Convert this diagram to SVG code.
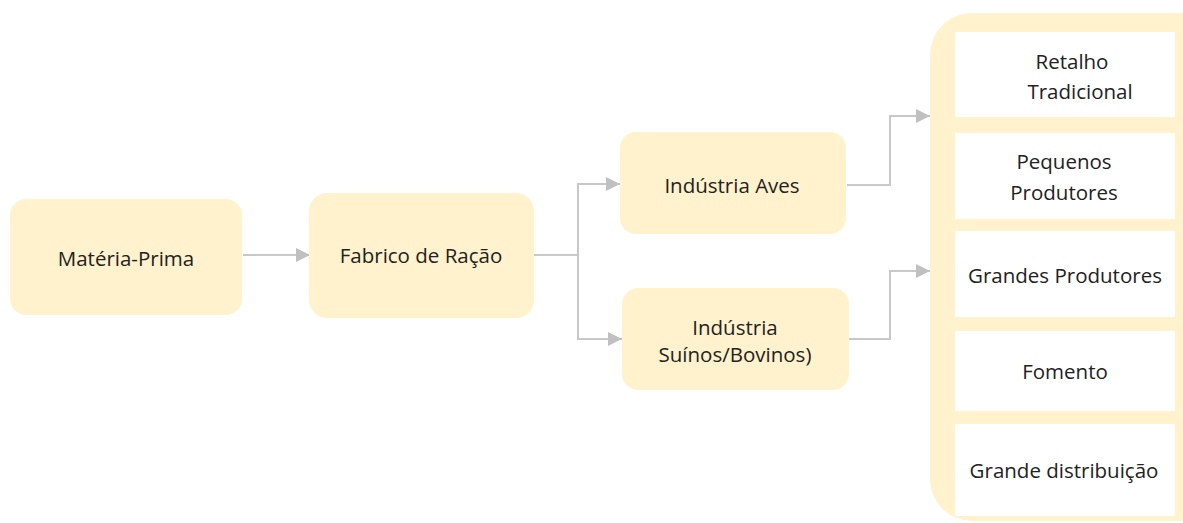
<svg xmlns="http://www.w3.org/2000/svg" width="1183" height="523" viewBox="0 0 1183 523">
<style>
.node{fill:#FFF2CC;}
.inner{fill:#FFFFFF;}
.t{font-family:"Open Sans","Liberation Sans",sans-serif;font-size:20.5px;fill:#222222;text-anchor:middle;dominant-baseline:central;}
.c{fill:none;stroke:#C8C8C8;stroke-width:2;}
</style>
<defs>
<marker id="ah" viewBox="0 0 10 10" refX="10" refY="5" markerWidth="14" markerHeight="14" markerUnits="userSpaceOnUse" orient="auto">
<path d="M0,0 L10,5 L0,10 Z" fill="#C0C0C0"/>
</marker>
</defs>
<rect width="1183" height="523" fill="#FFFFFF"/>
<g id="connectors">
<path class="c" d="M243,255 H310" marker-end="url(#ah)"/>
<path class="c" d="M534,255 H578 V184 H620" marker-end="url(#ah)"/>
<path class="c" d="M578,255 V339 H622" marker-end="url(#ah)"/>
<path class="c" d="M847,185 H890 V116 H930" marker-end="url(#ah)"/>
<path class="c" d="M849,339 H890 V271 H930" marker-end="url(#ah)"/>
</g>
<g id="materia-prima">
<rect class="node" x="10" y="199" width="232" height="116" rx="16"/>
<text class="t" x="126" y="258">Matéria-Prima</text>
</g>
<g id="fabrico">
<rect class="node" x="309" y="193" width="225" height="125" rx="18"/>
<text class="t" x="421" y="255">Fabrico de Ração</text>
</g>
<g id="aves">
<rect class="node" x="620" y="132" width="226" height="102" rx="16"/>
<text class="t" x="732" y="185">Indústria Aves</text>
</g>
<g id="suinos">
<rect class="node" x="622" y="288" width="227" height="102" rx="16"/>
<text class="t" x="735" y="327">Indústria</text>
<text class="t" x="735" y="354">Suínos/Bovinos)</text>
</g>
<g id="destinos">
<rect class="node" x="930" y="13" width="290" height="508" rx="42"/>
<g id="retalho">
<rect class="inner" x="955" y="32" width="220" height="85"/>
<text class="t" x="1072" y="61">Retalho</text>
<text class="t" x="1080" y="91">Tradicional</text>
</g>
<g id="pequenos">
<rect class="inner" x="955" y="133" width="220" height="86"/>
<text class="t" x="1064" y="161">Pequenos</text>
<text class="t" x="1064" y="192">Produtores</text>
</g>
<g id="grandes">
<rect class="inner" x="955" y="231" width="220" height="86"/>
<text class="t" x="1065" y="275">Grandes Produtores</text>
</g>
<g id="fomento">
<rect class="inner" x="955" y="331" width="220" height="80"/>
<text class="t" x="1065" y="371">Fomento</text>
</g>
<g id="grande-distribuicao">
<rect class="inner" x="955" y="424" width="220" height="92"/>
<text class="t" x="1064" y="470">Grande distribuição</text>
</g>
</g>
</svg>
